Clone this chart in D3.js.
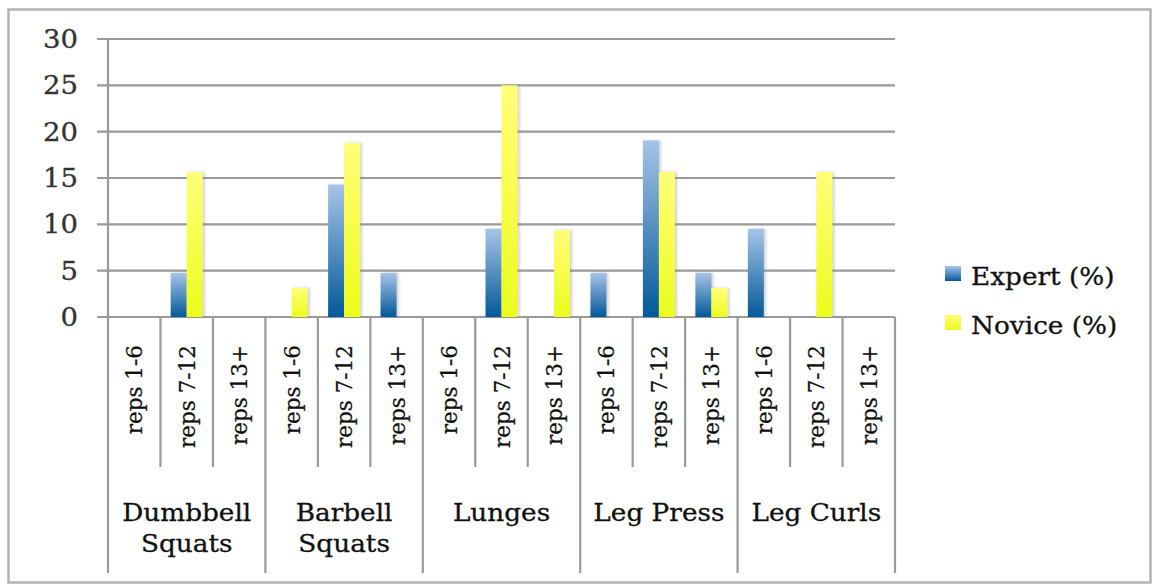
<!DOCTYPE html>
<html>
<head>
<meta charset="utf-8">
<script src="https://cdn.jsdelivr.net/npm/d3@7"></script>
<style>
  html, body { margin: 0; padding: 0; background: #fff; }
  svg { display: block; }
</style>
</head>
<body>
<script>
// Exercise groups (label lines as displayed), rep ranges and series values (%)
const exerciseLabels = [["Dumbbell", "Squats"], ["Barbell", "Squats"], ["Lunges"], ["Leg Press"], ["Leg Curls"]];
const repRanges = ["reps 1-6", "reps 7-12", "reps 13+"];
const expertValues = [0, 4.76, 0,  0, 14.29, 4.76,  0, 9.52, 0,  4.76, 19.05, 4.76,  9.52, 0, 0];
const noviceValues = [0, 15.63, 0,  3.13, 18.75, 0,  0, 25, 9.38,  0, 15.63, 3.13,  0, 15.63, 0];
const seriesNames = ["Expert (%)", "Novice (%)"];
const yTicks = [0, 5, 10, 15, 20, 25, 30];

const W = 1152, H = 584;
const plot = { left: 108, right: 895, top: 39, bottom: 317 };
const serif = "'DejaVu Serif', 'Liberation Serif', serif";
const textColor = "#111";
const wide = 1.12; // horizontal stretch for the wide serif labels

const svg = d3.select("body").append("svg").attr("width", W).attr("height", H);
const defs = svg.append("defs");

function vGrad(id, top, bottom) {
  const g = defs.append("linearGradient").attr("id", id)
    .attr("x1", 0).attr("y1", 0).attr("x2", 0).attr("y2", 1);
  g.append("stop").attr("offset", "0%").attr("stop-color", top);
  g.append("stop").attr("offset", "100%").attr("stop-color", bottom);
}
vGrad("gExpert", "#a6c4e8", "#02599a");
vGrad("gNovice", "#ffff78", "#ecfc1c");

const shadow = defs.append("filter").attr("id", "barShadow")
  .attr("x", "-50%").attr("y", "-10%").attr("width", "200%").attr("height", "120%");
shadow.append("feDropShadow").attr("dx", 2).attr("dy", 0).attr("stdDeviation", 1.6)
  .attr("flood-color", "#777").attr("flood-opacity", 0.35);

// Outer chart frame
svg.append("rect").attr("x", 8.5).attr("y", 9.5).attr("width", 1142).attr("height", 573)
  .attr("fill", "#fff").attr("stroke", "#b4b4b4").attr("stroke-width", 2.5);

// Scales
const nGroups = exerciseLabels.length;
const categories = d3.range(nGroups * repRanges.length);
const x = d3.scaleBand().domain(categories).range([plot.left, plot.right]).padding(0);
const xGroup = d3.scaleBand().domain(d3.range(nGroups)).range([plot.left, plot.right]).padding(0);
const y = d3.scaleLinear().domain([0, 30]).range([plot.bottom, plot.top]);

// Horizontal gridlines with tick stubs left of the axis
svg.append("g").selectAll("line").data(yTicks).join("line")
  .attr("x1", plot.left - 11).attr("x2", plot.right)
  .attr("y1", d => y(d)).attr("y2", d => y(d))
  .attr("stroke", "#9a9a9a").attr("stroke-width", 2.2);

// Y axis labels
svg.append("g").selectAll("text").data(yTicks).join("text")
  .attr("transform", d => `translate(78,${y(d) + 9}) scale(1.08,1)`)
  .attr("text-anchor", "end")
  .attr("font-family", serif).attr("font-size", 25.5).attr("fill", "#333")
  .attr("stroke", "#333").attr("stroke-width", 0.3)
  .text(d => d);

// Vertical axis line (continues down through the category label table)
svg.append("line").attr("x1", plot.left).attr("x2", plot.left)
  .attr("y1", plot.top).attr("y2", 573)
  .attr("stroke", "#9a9a9a").attr("stroke-width", 2.2);

// Category dividers: short within a group, long at group boundaries
const tickBottomInner = 467, tickBottomGroup = 573;
svg.append("g").selectAll("line").data(d3.range(1, categories.length + 1)).join("line")
  .attr("x1", i => i < categories.length ? x(i) : plot.right)
  .attr("x2", i => i < categories.length ? x(i) : plot.right)
  .attr("y1", plot.bottom)
  .attr("y2", i => i % repRanges.length === 0 ? tickBottomGroup : tickBottomInner)
  .attr("stroke", "#9a9a9a").attr("stroke-width", 2.2);

// Bars
const bw = 16;
const barsG = svg.append("g").attr("filter", "url(#barShadow)");
barsG.selectAll("rect.expert").data(categories.filter(i => expertValues[i] > 0)).join("rect")
  .attr("class", "expert")
  .attr("x", i => x(i) + x.bandwidth() / 2 - bw)
  .attr("y", i => y(expertValues[i]))
  .attr("width", bw)
  .attr("height", i => y(0) - y(expertValues[i]))
  .attr("fill", "url(#gExpert)");
barsG.selectAll("rect.novice").data(categories.filter(i => noviceValues[i] > 0)).join("rect")
  .attr("class", "novice")
  .attr("x", i => x(i) + x.bandwidth() / 2)
  .attr("y", i => y(noviceValues[i]))
  .attr("width", bw)
  .attr("height", i => y(0) - y(noviceValues[i]))
  .attr("fill", "url(#gNovice)");

// Rotated rep-range labels
svg.append("g").selectAll("text").data(categories).join("text")
  .attr("transform", i => `translate(${x(i) + x.bandwidth() / 2 + 8},345) rotate(-90)`)
  .attr("text-anchor", "end")
  .attr("font-family", serif).attr("font-size", 21.5).attr("fill", textColor)
  .attr("stroke", textColor).attr("stroke-width", 0.25)
  .text(i => repRanges[i % repRanges.length]);

// Exercise group labels
const groupText = svg.append("g").selectAll("text").data(d3.range(nGroups)).join("text")
  .attr("transform", g => `translate(${xGroup(g) + xGroup.bandwidth() / 2},521) scale(${wide},1)`)
  .attr("text-anchor", "middle")
  .attr("font-family", serif).attr("font-size", 23.5).attr("fill", textColor)
  .attr("stroke", textColor).attr("stroke-width", 0.3);
groupText.selectAll("tspan").data(g => exerciseLabels[g].map((t, k) => ({ t, k }))).join("tspan")
  .attr("x", 0)
  .attr("dy", d => d.k === 0 ? 0 : 31)
  .text(d => d.t);

// Legend
const legend = svg.append("g");
const legendItems = [
  { name: seriesNames[0], fill: "url(#gExpert)", y: 266 },
  { name: seriesNames[1], fill: "url(#gNovice)", y: 315 }
];
legend.selectAll("rect").data(legendItems).join("rect")
  .attr("x", 945).attr("y", d => d.y).attr("width", 16).attr("height", 15)
  .attr("fill", d => d.fill);
legend.selectAll("text").data(legendItems).join("text")
  .attr("transform", d => `translate(971,${d.y + 19}) scale(${wide},1)`)
  .attr("font-family", serif).attr("font-size", 23.5).attr("fill", textColor)
  .attr("stroke", textColor).attr("stroke-width", 0.3)
  .text(d => d.name);
</script>
</body>
</html>
